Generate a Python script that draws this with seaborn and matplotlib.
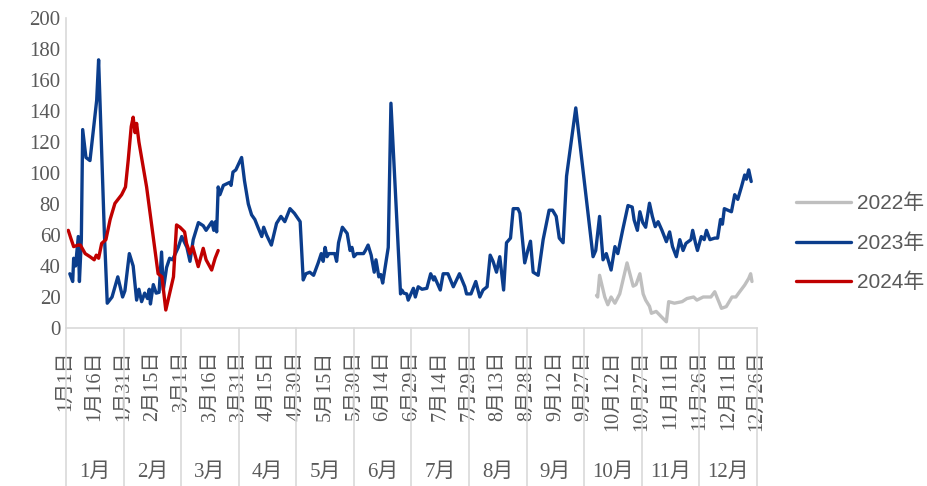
import numpy as np
import pandas as pd
import matplotlib
matplotlib.use("Agg")
import matplotlib.pyplot as plt
import seaborn as sns
from matplotlib.transforms import blended_transform_factory

# ---------------- data (day index from 1月1日, value) ----------------
days_2023 = [2, 3.5, 4, 5, 6.4, 7, 8, 8.7, 10.4, 12.5, 16, 17, 20, 21.5, 24, 27, 29.5, 30.7,
             33, 35, 36.8, 38, 39.4, 41, 42.5, 43.4, 44, 45.5, 47, 48.5, 49.8, 50.7, 52.4, 54,
             55.5, 58.5, 60.3, 63, 64.6, 66.3, 69, 71.5, 73, 76, 77, 77.8, 78.5, 79.3, 80.2, 82,
             85.4, 86, 87, 88.5, 91.5, 93, 95, 96.7, 98.4, 100, 102, 103, 104.5, 107, 109.7, 112,
             114, 116.7, 119, 122, 123.6, 125, 127, 129, 131.4, 133, 134, 135, 136, 137, 140,
             141, 142, 144, 146.5, 148, 149, 150, 151.5, 155, 156, 157.4, 159, 160.6, 161.5, 163,
             164, 165, 167.9, 169.3, 174.3, 175, 176, 177.5, 178.3, 181, 182, 183.5, 185.5, 188,
             190, 191.5, 192, 195, 196.5, 199, 201.8, 203.5, 205, 207.8, 208.7, 211, 213.5, 215.6,
             217.3, 219.4, 221, 222.5, 224.3, 226, 228, 229.5, 231.6, 233, 235.5, 236.5, 239,
             240.6, 242, 243.4, 246, 248.6, 251.7, 253.5, 255.4, 257, 259, 260.8, 265.6, 274.6,
             276, 278, 279.8, 281.5, 284, 286, 287.5, 290, 292.8, 295, 296, 297.7, 299, 300.5,
             302, 304, 305.5, 307, 308.5, 310.5, 312.8, 314.5, 316, 318, 319.8, 321.5, 323, 325.6,
             326.5, 328, 329, 331, 332.5, 333.7, 335.5, 338, 339.5, 341, 342, 343, 346.7, 348.4,
             350, 351.9, 353.6, 354.5, 355.7, 357]
vals_2023 = [35, 30, 45, 40, 59, 30, 57, 128, 110, 108, 147, 173, 61, 16, 20, 33, 20, 24,
             48, 40, 18, 25, 17, 22.5, 19, 25, 15.5, 28, 22.5, 23, 49, 24.5, 39, 45,
             44, 52, 59, 52, 43, 57, 68, 66, 63, 68.5, 63, 68.5, 62, 91, 86, 92,
             94, 92, 100.6, 102, 110, 95, 80, 73, 70, 65, 59, 65, 60, 53.5, 67.5, 72,
             68.6, 77, 74, 68.6, 31, 35, 36, 34, 42, 48, 43, 52, 46, 48, 48,
             43, 55, 65, 61, 50, 52, 46, 48, 48, 50, 53.5, 47, 36, 44, 33,
             34.5, 29, 52, 145, 22, 24.5, 22.5, 22, 18, 25.6, 20, 26.6, 25, 25.6,
             35, 31, 33, 24.5, 35, 35, 26.6, 31, 35, 26.6, 22, 22, 30, 20,
             24.5, 26.6, 47, 43, 36, 46, 24.5, 55, 58, 77, 77, 74, 42,
             50, 56, 36, 34, 57, 76, 76, 72, 58, 55, 98, 142, 46,
             50, 72, 44, 48, 37.4, 52.5, 48, 63, 79, 78, 69.7, 63, 75, 68,
             65, 80.5, 72, 65.4, 68.6, 63, 55.7, 62, 52.5, 46, 57, 50, 54.6, 57,
             63, 54.6, 50, 59, 57, 63, 57, 58, 58, 70, 67, 77, 75, 86,
             83, 91, 98.7, 96, 102, 94.5]

days_2024 = [1.2, 2.5, 4, 6.4, 7.5, 10, 12.5, 14.7, 15.8, 17, 18.6, 20.8, 23, 25.5, 29, 31,
             32.4, 34, 35, 36, 36.8, 38, 42, 48, 50, 52, 56, 57.6, 59.4, 61.8, 62.8, 64.6,
             66, 68.9, 71.5, 73, 75.9, 77.7, 79.3]
vals_2024 = [63, 58, 52.5, 53.5, 53.5, 48, 46, 44, 47, 45, 54.6, 57, 70, 80.4, 86, 91,
             108, 130, 136, 126, 132, 120, 91, 35, 33, 11.6, 33, 66.5, 65, 62, 54.6, 48,
             52.5, 39.6, 51.4, 44, 37.4, 45, 50]

days_2022 = [276.4, 277, 278, 280.7, 282.3, 284, 286, 288.5, 292.3, 295.5, 297, 299, 300.7,
             302, 304, 305, 307.5, 310, 312.8, 314, 317, 321, 323.5, 327, 328.7, 332, 336,
             338, 341.5, 344, 347, 349, 351, 353.6, 355.7, 356.7, 357.4]
vals_2022 = [21, 20, 34, 20, 15, 20, 16, 22, 42, 27, 28, 35, 22,
             18, 14, 9.5, 10.7, 7.5, 4, 17, 16, 17, 19, 20, 18, 20, 20,
             23.4, 12.7, 13.8, 20, 20, 23.4, 27.7, 32, 35, 30]

series_names = ["2022年", "2023年", "2024年"]
series_colors = ["#bfbfbf", "#0b3d8c", "#c00000"]

tick_days = list(range(0, 361, 15))
tick_labels = ["1月1日", "1月16日", "1月31日", "2月15日", "3月1日", "3月16日", "3月31日",
               "4月15日", "4月30日", "5月15日", "5月30日", "6月14日", "6月29日", "7月14日",
               "7月29日", "8月13日", "8月28日", "9月12日", "9月27日", "10月12日", "10月27日",
               "11月11日", "11月26日", "12月11日", "12月26日"]
month_labels = ["1月", "2月", "3月", "4月", "5月", "6月", "7月", "8月", "9月", "10月", "11月", "12月"]

# ---------------- build long frame ----------------
frames = []
for name, d, v in zip(series_names, [days_2022, days_2023, days_2024],
                      [vals_2022, vals_2023, vals_2024]):
    frames.append(pd.DataFrame({"day": d, "value": v, "year": name}))
df = pd.concat(frames, ignore_index=True)

sns.set_style("white")
plt.rcParams["font.family"] = ["Liberation Serif", "Noto Sans CJK SC"]
grey_txt = "#595959"

fig = plt.figure(figsize=(9.28, 4.86), dpi=100)
ax = fig.add_axes([0.0711, 0.3251, 0.7446, 0.6379])

sns.lineplot(data=df, x="day", y="value", hue="year", hue_order=series_names,
             palette=series_colors, estimator=None, sort=False, linewidth=2.4, ax=ax)

ax.set_xlim(0, 360)
ax.set_ylim(0, 200)
ax.set_xlabel("")
ax.set_ylabel("")
ax.set_yticks(range(0, 201, 20))
ax.set_xticks(tick_days)
ax.set_xticklabels(tick_labels, rotation=90, ha="center", va="top")
ax.tick_params(axis="x", length=0, pad=16, labelsize=14.5, labelcolor=grey_txt)
ax.tick_params(axis="y", length=0, pad=4, labelsize=15, labelcolor=grey_txt)

for s in ["top", "right"]:
    ax.spines[s].set_visible(False)
for s in ["left", "bottom"]:
    ax.spines[s].set_color("#d9d9d9")
    ax.spines[s].set_linewidth(1.2)

# month group separators and labels below the axis
trans = blended_transform_factory(ax.transData, ax.transAxes)
for d in tick_days[::2]:
    ax.plot([d, d], [0, -0.53], transform=trans, color="#d9d9d9", lw=1.2, clip_on=False)
for i, m in enumerate(month_labels):
    ax.text(tick_days[2 * i] + 15, -0.465, m, transform=trans, ha="center", va="center",
            fontsize=15, color=grey_txt)

handles, labels = ax.get_legend_handles_labels()
ax.legend(handles, labels, loc="center left", bbox_to_anchor=(0.838, 0.5),
          bbox_transform=fig.transFigure, frameon=False, handlelength=2.6,
          labelspacing=0.95, handletextpad=0.3,
          prop={"family": ["Liberation Sans", "Noto Sans CJK SC"], "size": 15},
          labelcolor=grey_txt)

fig.savefig("out.png", dpi=100)
